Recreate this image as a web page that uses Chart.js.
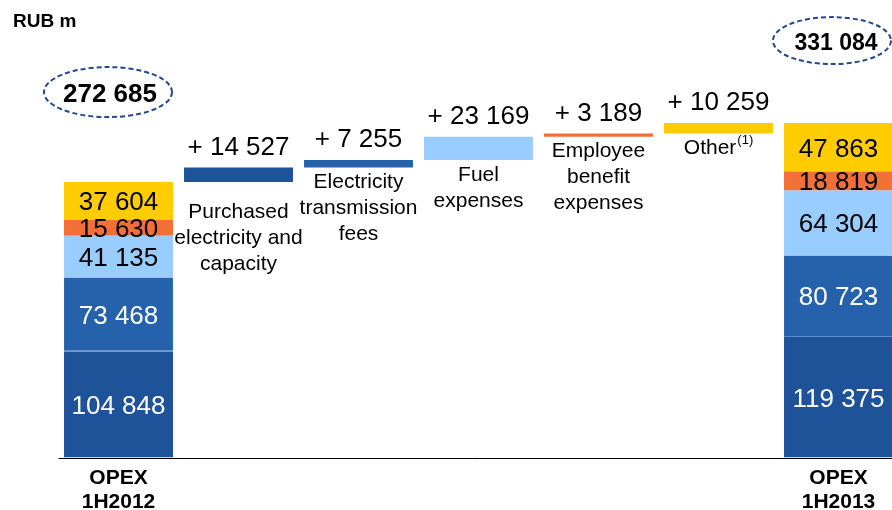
<!DOCTYPE html>
<html>
<head>
<meta charset="utf-8">
<script src="https://cdn.jsdelivr.net/npm/chart.js@4/dist/chart.umd.min.js"></script>
<style>
  html, body { margin: 0; padding: 0; overflow: hidden; background: #ffffff; }
  #wrap { position: absolute; left: 0; top: 0; width: 900px; height: 510px; }
</style>
</head>
<body>
<div id="wrap"><canvas id="opex" width="900" height="510"></canvas></div>
<script>
// OPEX bridge, RUB m: 1H2012 -> 1H2013
const categories = [
  ['OPEX', '1H2012'],
  ['Purchased', 'electricity and', 'capacity'],
  ['Electricity', 'transmission', 'fees'],
  ['Fuel', 'expenses'],
  ['Employee', 'benefit', 'expenses'],
  ['Other'],
  ['OPEX', '1H2013']
];
const components = [
  'Purchased electricity and capacity',
  'Electricity transmission fees',
  'Fuel expenses',
  'Employee benefit expenses',
  'Other'
];
const opex2012 = [104848, 73468, 41135, 15630, 37604];
const changes  = [14527, 7255, 23169, 3189, 10259];
const opex2013 = [119375, 80723, 64304, 18819, 47863];
const colors = ['#1F5399', '#2562AB', '#99CCFF', '#F26F38', '#FFCC00'];
const labelInk = ['#ffffff', '#ffffff', '#000000', '#000000', '#000000'];

const sum = a => a.reduce((s, v) => s + v, 0);
const total2012 = sum(opex2012);
const total2013 = sum(opex2013);
const fmt = n => String(n).replace(/\B(?=(\d{3})+(?!\d))/g, ' ');
const FONT = '"Liberation Sans", Arial, Helvetica, sans-serif';

// one floating-bar dataset per cost component: a slice of each OPEX column plus its own step
const datasets = components.map((name, k) => {
  const data = categories.map(() => null);
  const b12 = sum(opex2012.slice(0, k));
  data[0] = [b12, b12 + opex2012[k]];
  const run = total2012 + sum(changes.slice(0, k));
  data[k + 1] = [run, run + changes[k]];
  const b13 = sum(opex2013.slice(0, k));
  data[6] = [b13, b13 + opex2013[k]];
  return {
    label: name,
    data,
    backgroundColor: colors[k],
    borderColor: '#5D8CCB',
    borderSkipped: false,
    borderWidth: ctx => (k === 1 && (ctx.dataIndex === 0 || ctx.dataIndex === 6))
      ? { top: 0, bottom: 1, left: 0, right: 0 } : 0,
    grouped: false,
    barPercentage: 0.908,
    categoryPercentage: 1
  };
});

function text(ctx, str, x, cy, size, bold, color, align) {
  ctx.font = (bold ? 'bold ' : '') + size + 'px ' + FONT;
  ctx.fillStyle = color;
  ctx.textAlign = align || 'center';
  ctx.textBaseline = 'alphabetic';
  ctx.fillText(str, x, cy + 0.358 * size);
}

function ellipseLabel(ctx, str, cx, cy, rx, ry, size, dx) {
  ctx.save();
  ctx.beginPath();
  ctx.ellipse(cx, cy, rx, ry, 0, 0, Math.PI * 2);
  ctx.setLineDash([5, 3]);
  ctx.lineWidth = 2;
  ctx.strokeStyle = '#27478C';
  ctx.stroke();
  ctx.restore();
  text(ctx, str, cx + dx, cy + 1, size, true, '#000000');
}

const bridgeLabels = {
  id: 'bridgeLabels',
  afterDatasetsDraw(chart) {
    const ctx = chart.ctx;
    const xs = chart.scales.x, ys = chart.scales.y;
    ctx.save();

    // baseline
    const y0 = Math.round(ys.getPixelForValue(0)) + 0.5;
    ctx.beginPath();
    ctx.moveTo(xs.left, y0);
    ctx.lineTo(chart.width, y0);
    ctx.lineWidth = 1;
    ctx.strokeStyle = '#000000';
    ctx.stroke();

    components.forEach((name, k) => {
      const meta = chart.getDatasetMeta(k);
      // values inside the OPEX columns
      [0, 6].forEach(i => {
        const el = meta.data[i];
        const v = i === 0 ? opex2012[k] : opex2013[k];
        text(ctx, fmt(v), el.x, (el.y + el.base) / 2, 26, false, labelInk[k]);
      });
      // step value above and category name below each floating bar
      const el = meta.data[k + 1];
      text(ctx, '+ ' + fmt(changes[k]), el.x, el.y - 22, 26, false, '#000000');
      const lines = categories[k + 1];
      const first = el.base + (k === 0 ? 28 : 13);
      lines.forEach((ln, j) => {
        const cy = first + j * 26;
        if (k === 4) {
          // "Other" with a raised footnote marker
          ctx.font = '21px ' + FONT;
          const w1 = ctx.measureText(ln).width;
          ctx.font = '13px ' + FONT;
          const w2 = ctx.measureText('(1)').width;
          const left = el.x - (w1 + w2 + 1) / 2;
          text(ctx, ln, left, cy, 21, false, '#000000', 'left');
          text(ctx, '(1)', left + w1 + 1, cy - 7, 13, false, '#000000', 'left');
        } else {
          text(ctx, ln, el.x, cy, 21, false, '#000000');
        }
      });
    });

    // totals in dashed ellipses
    const x0 = xs.getPixelForValue(0), x6 = xs.getPixelForValue(6);
    const t0 = ys.getPixelForValue(total2012), t6 = ys.getPixelForValue(total2013);
    ellipseLabel(ctx, fmt(total2012), x0 - 10.5, t0 - 90, 64, 25, 26, 2);
    ellipseLabel(ctx, fmt(total2013), x6 - 6.5, t6 - 82.5, 59, 23.5, 23, 4);

    // column captions under the axis
    [0, 6].forEach(i => {
      const x = xs.getPixelForValue(i);
      categories[i].forEach((ln, j) => text(ctx, ln, x, 476.5 + j * 24, 21, true, '#000000'));
    });

    // unit
    text(ctx, 'RUB m', 13, 20.5, 19, true, '#000000', 'left');
    ctx.restore();
  }
};

new Chart(document.getElementById('opex'), {
  type: 'bar',
  data: { labels: categories, datasets },
  options: {
    responsive: false,
    devicePixelRatio: 1,
    animation: false,
    layout: { padding: { left: 58.5, right: 1.5, top: 53.5, bottom: 52.5 } },
    scales: {
      x: { display: false, stacked: false },
      y: { display: false, min: 0, max: 400000 }
    },
    plugins: { legend: { display: false }, tooltip: { enabled: false } }
  },
  plugins: [bridgeLabels]
});
</script>
</body>
</html>
